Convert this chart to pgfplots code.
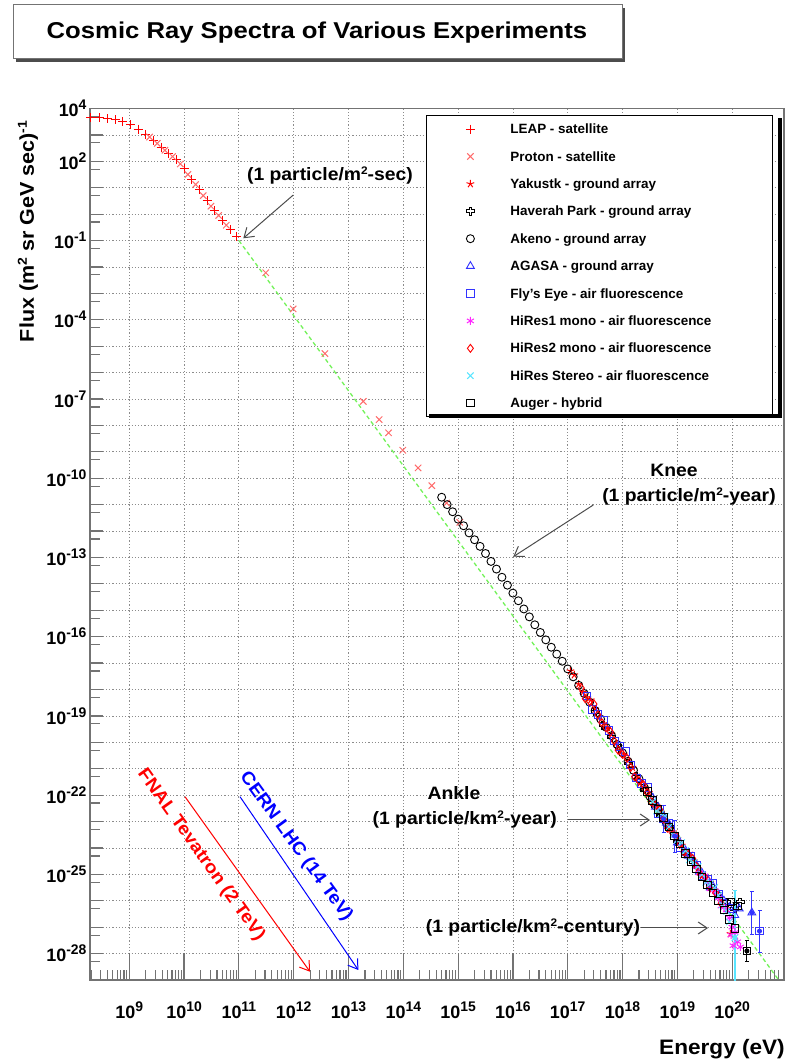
\documentclass[border=0pt]{standalone}
\usepackage{fontspec}
\setmainfont{Liberation Sans}
\usepackage{pgfplots}
\pgfplotsset{compat=1.18}
\usetikzlibrary{arrows.meta}
\definecolor{frame}{gray}{0.45}
\definecolor{gridc}{gray}{0.55}
\definecolor{lred}{rgb}{1,0.42,0.42}
\definecolor{mblue}{rgb}{0.2,0.2,1}
\definecolor{mmag}{rgb}{1,0.15,1}
\definecolor{mcyan}{rgb}{0.35,0.9,1}
\definecolor{lgreen}{rgb}{0.45,0.95,0.35}
\definecolor{arr}{gray}{0.3}
\newcommand\tlab[1]{\fontsize{18}{18}\selectfont\bfseries 10\raisebox{7bp}{\fontsize{14}{14}\selectfont #1}}
\newcommand\ann[1]{\scalebox{1.08}[1]{\fontsize{18}{18}\selectfont\bfseries #1}}
\newcommand\sq[1]{\raisebox{6bp}{\fontsize{11}{11}\selectfont #1}}
\newcommand\lgent[1]{\makebox[262bp][l]{#1}\rule[-9bp]{0pt}{27.4bp}}
\pgfdeclareplotmark{ocross}{%
  \pgfpathmoveto{\pgfqpoint{-0.35\pgfplotmarksize}{\pgfplotmarksize}}%
  \pgfpathlineto{\pgfqpoint{0.35\pgfplotmarksize}{\pgfplotmarksize}}%
  \pgfpathlineto{\pgfqpoint{0.35\pgfplotmarksize}{0.35\pgfplotmarksize}}%
  \pgfpathlineto{\pgfqpoint{\pgfplotmarksize}{0.35\pgfplotmarksize}}%
  \pgfpathlineto{\pgfqpoint{\pgfplotmarksize}{-0.35\pgfplotmarksize}}%
  \pgfpathlineto{\pgfqpoint{0.35\pgfplotmarksize}{-0.35\pgfplotmarksize}}%
  \pgfpathlineto{\pgfqpoint{0.35\pgfplotmarksize}{-\pgfplotmarksize}}%
  \pgfpathlineto{\pgfqpoint{-0.35\pgfplotmarksize}{-\pgfplotmarksize}}%
  \pgfpathlineto{\pgfqpoint{-0.35\pgfplotmarksize}{-0.35\pgfplotmarksize}}%
  \pgfpathlineto{\pgfqpoint{-\pgfplotmarksize}{-0.35\pgfplotmarksize}}%
  \pgfpathlineto{\pgfqpoint{-\pgfplotmarksize}{0.35\pgfplotmarksize}}%
  \pgfpathlineto{\pgfqpoint{-0.35\pgfplotmarksize}{0.35\pgfplotmarksize}}%
  \pgfpathclose\pgfusepathqstroke}
\pgfplotsset{lgimg/.style={legend image code/.code={\path[draw=none,fill=none] (0bp,-5bp) rectangle (84bp,5bp); \draw[##1] plot coordinates {(44bp,0bp)};}}}
\begin{document}
\begin{tikzpicture}
\useasboundingbox (0,0) rectangle (785bp,1062bp);
\begin{scope}[x=1bp,y=1bp]
 \fill[black!70] (16,1000) rectangle (625,1054);
 \filldraw[fill=white,draw=black!55,line width=1bp] (13,1003) rectangle (622,1057);
 \node[inner sep=0pt] at (317,1029) {\scalebox{1.12}[1]{\fontsize{23}{23}\selectfont\bfseries Cosmic Ray Spectra of Various Experiments}};
 \node[rotate=90,inner sep=0pt] at (28,830.5) {\scalebox{1.08}[1]{\fontsize{20}{20}\selectfont\bfseries Flux (m\raisebox{7bp}{\fontsize{13}{13}\selectfont 2} sr GeV sec)\raisebox{7bp}{\fontsize{13}{13}\selectfont -1}}};
 \node[anchor=east,inner sep=0pt] at (785,13) {\scalebox{1.08}[1]{\fontsize{21}{21}\selectfont\bfseries Energy (eV)}};
\end{scope}
\begin{axis}[
  at={(90bp,82bp)}, anchor=south west, scale only axis,
  width=694bp, height=871.5bp,
  xmin=8.283, xmax=20.947, ymin=-29, ymax=4,
  axis line style={frame, line width=1.8bp},
  tick align=inside, xtick pos=left, ytick pos=left,
  xtick={9,...,20}, ytick={-28,...,4},
  minor xtick={8.301,9.301,...,20.301,8.477,9.477,...,20.477,8.602,9.602,...,20.602,8.699,9.699,...,20.699,8.778,9.778,...,20.778,8.845,9.845,...,20.845,8.903,9.903,...,19.903,8.954,9.954,...,19.954},
  minor ytick={-28.301,-27.301,...,3.699},
  major tick length=13bp, minor tick length=10bp,
  tick style={frame, line width=1.2bp},
  grid=major, major grid style={gridc, line width=0.8bp, dash pattern=on 1.2bp off 2bp},
  /pgf/number format/assume math mode=true,
  xticklabel={\tlab{\pgfmathprintnumber{\tick}}},
  xticklabel style={yshift=-18bp},
  yticklabels={\tlab{-28},,,\tlab{-25},,,\tlab{-22},,,\tlab{-19},,,\tlab{-16},,,\tlab{-13},,,\tlab{-10},,,\tlab{-7},,,\tlab{-4},,,\tlab{-1},,,\tlab{2},,\tlab{4}},
  legend cell align=left,
  legend style={at={(axis description cs:0.48415,0.99254)}, anchor=north west, draw=black, line width=0.8bp, fill=white, inner xsep=0pt, inner ysep=0pt, font=\fontsize{13.5}{14}\selectfont\bfseries, nodes={inner sep=0pt, text depth={}}, cells={anchor=west, inner sep=0pt}, row sep=0pt},
]
\pgfplotsinvokeforeach{9,...,20}{\draw[frame, line width=1.2bp] (axis cs:#1,-29) -- (axis cs:#1,-27.98);}
\addplot[lgreen, line width=1.3bp, dash pattern=on 4bp off 3bp, forget plot] coordinates {(11,-1) (20.85,-29)};
% LEAP
\addplot[only marks, red, mark=+, mark size=4.5bp, line width=1bp, lgimg] coordinates {
(8.30,3.66) (8.45,3.65) (8.60,3.62) (8.74,3.57) (8.88,3.50) (9.02,3.38) (9.16,3.22) (9.30,3.02) (9.44,2.80) (9.58,2.54)
(9.72,2.29) (9.86,2.05) (10.00,1.72) (10.14,1.30) (10.28,0.92) (10.42,0.50) (10.56,0.13) (10.70,-0.25) (10.84,-0.58) (10.96,-0.84)};
\addlegendentry{\lgent{LEAP - satellite}}
% Proton
\addplot[only marks, lred, mark=x, mark size=4.5bp, line width=1bp, lgimg] coordinates {
(9.37,2.92) (9.51,2.68) (9.65,2.42) (9.79,2.18) (9.93,1.90) (10.07,1.50) (10.21,1.12) (10.35,0.70) (10.49,0.30) (10.63,-0.05) (10.77,-0.42)
(11.49,-2.22) (11.99,-3.59) (12.57,-5.28) (13.27,-7.09) (13.56,-7.78) (13.73,-8.28) (13.99,-8.94) (14.27,-9.61) (14.52,-10.28) (14.79,-10.94) (15.03,-11.67)};
\addlegendentry{\lgent{Proton - satellite}}
% Yakutsk
\addplot[only marks, red, mark=star, mark size=4bp, line width=1bp, lgimg] coordinates {
(17.05,-17.30) (17.2,-17.80) (17.35,-18.30) (17.5,-18.75) (17.65,-19.30) (17.8,-19.70) (17.95,-20.30) (18.1,-20.70) (18.25,-21.25) (18.4,-21.70)
(18.55,-22.25) (18.7,-22.65) (18.85,-23.25) (19.0,-23.65) (19.15,-24.15) (19.3,-24.50) (19.45,-25.00) (19.6,-25.30) (19.75,-25.80)
(17.12,-17.45) (17.28,-18.10) (17.42,-18.40) (17.58,-19.05) (17.72,-19.45) (17.88,-20.05) (18.02,-20.45) (18.18,-20.95) (18.32,-21.55) (18.48,-21.90)
(18.62,-22.40) (18.78,-23.00) (18.92,-23.40) (19.08,-23.90) (19.22,-24.20) (19.38,-24.80) (19.52,-25.15) (19.68,-25.60) (19.82,-26.00) (19.90,-26.30) (19.97,-27.25)};
\addlegendentry{\lgent{Yakustk - ground array}}
% Haverah Park
\addplot[only marks, black, mark=ocross, mark size=4bp, line width=0.9bp, lgimg] coordinates {
(17.5,-18.85) (17.65,-19.35) (17.8,-19.80) (17.95,-20.25) (18.1,-20.80) (18.25,-21.30) (18.4,-21.80) (18.55,-22.30) (18.7,-22.80)
(18.85,-23.20) (19.0,-23.75) (19.15,-24.20) (19.3,-24.55) (19.45,-25.05) (19.6,-25.45) (19.75,-25.75) (19.9,-26.05) (20.05,-26.30) (20.15,-26.05)};
\addlegendentry{\lgent{Haverah Park - ground array}}
% Akeno
\addplot[only marks, black, mark=o, mark size=4bp, line width=0.9bp, lgimg] coordinates {
(14.7,-10.72) (14.8,-11.00) (14.9,-11.27) (15.0,-11.55) (15.1,-11.80) (15.2,-12.07) (15.3,-12.33) (15.4,-12.58) (15.5,-12.85) (15.6,-13.15)
(15.7,-13.44) (15.8,-13.75) (15.9,-14.05) (16.0,-14.35) (16.1,-14.64) (16.2,-14.95) (16.3,-15.25) (16.4,-15.55) (16.5,-15.84) (16.6,-16.12)
(16.7,-16.40) (16.8,-16.66) (16.9,-16.93) (17.0,-17.22) (17.1,-17.52) (17.2,-17.84) (17.3,-18.15) (17.4,-18.48) (17.5,-18.80) (17.6,-19.12)
(17.7,-19.43) (17.8,-19.75) (17.9,-20.08) (18.0,-20.40) (18.1,-20.72) (18.2,-21.06) (18.3,-21.38) (18.4,-21.72) (18.5,-22.05) (18.6,-22.40)
(18.7,-22.72) (18.8,-23.05)};
\addlegendentry{\lgent{Akeno - ground array}}
% AGASA
\addplot[only marks, mblue, mark=triangle, mark size=4.5bp, line width=0.9bp, lgimg] coordinates {
(18.55,-22.10) (18.65,-22.45) (18.75,-22.80) (18.85,-23.10) (18.95,-23.50) (19.05,-23.80) (19.15,-24.10) (19.25,-24.35) (19.35,-24.65)
(19.45,-24.95) (19.55,-25.20) (19.65,-25.45) (19.75,-25.75) (19.85,-26.00) (19.95,-26.25) (20.05,-26.55) (20.13,-26.30) (20.36,-26.45)
(18.6,-22.45) (18.8,-23.05) (19.0,-23.80) (19.2,-24.30) (19.4,-24.90) (19.6,-25.50)};
\addlegendentry{\lgent{AGASA - ground array}}
% Fly's Eye
\addplot[only marks, mblue, mark=square, mark size=3.8bp, line width=0.9bp, lgimg] coordinates {
(17.35,-18.25) (17.55,-18.95) (17.75,-19.55) (17.95,-20.15) (18.15,-20.85) (18.35,-21.55) (18.55,-22.20) (18.75,-22.90) (18.95,-23.55)
(19.15,-24.15) (19.35,-24.65) (19.55,-25.20) (19.75,-25.75) (19.95,-26.30) (20.5,-27.15)
(17.45,-18.75) (17.65,-19.15) (17.85,-19.95) (18.05,-20.35) (18.25,-21.35) (18.45,-21.70) (18.65,-22.70) (18.85,-23.05) (19.05,-24.00) (19.25,-24.30) (19.45,-25.05) (19.65,-25.35) (19.85,-26.10)};
\addlegendentry{\lgent{Fly's Eye - air fluorescence}}
% HiRes1
\addplot[only marks, mmag, mark=asterisk, mark size=4bp, line width=1bp, lgimg] coordinates {
(19.35,-24.70) (19.45,-25.00) (19.55,-25.30) (19.65,-25.60) (19.75,-25.90) (19.85,-26.25) (19.95,-26.65) (20.05,-27.20) (20.15,-27.75)
(19.40,-24.95) (19.50,-25.05) (19.60,-25.55) (19.70,-25.65) (19.80,-26.20) (19.90,-26.35) (20.00,-27.00) (20.10,-27.55) (20.02,-27.70) (19.98,-27.30)};
\addlegendentry{\lgent{HiRes1 mono - air fluorescence}}
% HiRes2
\addplot[only marks, red, mark=diamond, mark size=4bp, line width=0.9bp, lgimg] coordinates {
(17.25,-17.95) (17.4,-18.45) (17.55,-18.95) (17.7,-19.45) (17.85,-19.95) (18.0,-20.45) (18.15,-20.95) (18.3,-21.45) (18.45,-21.90)
(18.6,-22.40) (18.75,-22.90) (18.9,-23.40) (19.05,-23.85) (19.2,-24.25) (19.35,-24.70)
(17.32,-18.35) (17.48,-18.55) (17.62,-19.25) (17.78,-19.60) (17.92,-20.30) (18.08,-20.60) (18.22,-21.30) (18.38,-21.60) (18.52,-22.25) (18.68,-22.55)
(18.82,-23.25) (18.98,-23.55) (19.12,-24.15) (19.28,-24.40) (19.42,-25.00) (19.50,-25.10) (19.60,-25.50) (19.70,-25.70) (19.80,-26.10)};
\addlegendentry{\lgent{HiRes2 mono - air fluorescence}}
% HiRes Stereo
\addplot[only marks, mcyan, mark=x, mark size=4.5bp, line width=1bp, lgimg] coordinates {
(18.55,-22.25) (18.7,-22.70) (18.85,-23.20) (19.0,-23.70) (19.15,-24.10) (19.3,-24.55) (19.45,-25.00) (19.6,-25.35) (19.75,-25.80) (19.9,-26.40) (20.05,-27.40)
(18.62,-22.60) (18.78,-22.80) (18.92,-23.50) (19.08,-23.80) (19.22,-24.45) (19.38,-24.70) (19.52,-25.30) (19.68,-25.50) (19.82,-26.15) (19.95,-26.80)};
\addlegendentry{\lgent{HiRes Stereo - air fluorescence}}
% Auger
\addplot[only marks, black, mark=square, mark size=3.8bp, line width=0.9bp, lgimg] coordinates {
(18.45,-21.85) (18.55,-22.20) (18.65,-22.55) (18.75,-22.85) (18.85,-23.20) (18.95,-23.55) (19.05,-23.85) (19.15,-24.20) (19.25,-24.50)
(19.35,-24.80) (19.45,-25.10) (19.55,-25.40) (19.65,-25.70) (19.75,-26.00) (19.85,-26.35) (19.95,-26.70) (20.05,-27.05) (20.27,-27.90) (19.98,-26.05) (20.10,-26.20)};
\addlegendentry{\lgent{Auger - hybrid}}
% error bars
\addplot[forget plot, only marks, mark=none, mblue, line width=1bp, error bars/.cd, y dir=both, y explicit, error bar style={line width=1bp}] coordinates {
(20.36,-26.45) +- (0,0.8) (20.5,-27.15) +- (0,0.8) (18.95,-23.55) +- (0,0.6) (18.75,-22.90) +- (0,0.5)};
\addplot[forget plot, only marks, mark=none, black, line width=1bp, error bars/.cd, y dir=both, y explicit, error bar style={line width=1bp}] coordinates {
(20.27,-27.90) +- (0,0.4)};
\addplot[forget plot, only marks, mark=none, mcyan, line width=1.2bp, error bars/.cd, y dir=both, y explicit, error bar style={line width=1.5bp}] coordinates {
(20.05,-27.40) +- (0,1.8)};
\end{axis}
\begin{scope}[x=1bp,y=1bp]
 \fill[black] (778,644) rectangle (781.5,944);
 \fill[black] (429,644) rectangle (781.5,647.5);
 \tikzset{ar/.style={line width=1bp, -{Straight Barb[length=9bp,width=12bp,line width=1bp]}}}
 \node[inner sep=0pt] at (330,886) {\ann{(1 particle/m\sq{2}-sec)}};
 \draw[arr, ar] (293.3,867) -- (243.3,823.7);
 \node[inner sep=0pt] at (674,592) {\ann{Knee}};
 \node[inner sep=0pt] at (689,565.3) {\ann{(1 particle/m\sq{2}-year)}};
 \draw[arr, ar] (593.3,557) -- (513.3,505.3);
 \node[inner sep=0pt] at (454,269) {\ann{Ankle}};
 \node[inner sep=0pt, anchor=east] at (557,242) {\ann{(1 particle/km\sq{2}-year)}};
 \draw[arr, ar] (568,242) -- (650,242);
 \node[inner sep=0pt] at (533,134) {\ann{(1 particle/km\sq{2}-century)}};
 \draw[arr, ar] (641,134) -- (708,134);
 \draw[red, ar] (185,265.3) -- (310,90.3);
 \node[red, rotate=-54.5, inner sep=0pt] at (201,207) {\ann{FNAL Tevatron (2 TeV)}};
 \draw[blue, ar] (240,265.3) -- (358.3,92);
 \node[blue, rotate=-54, inner sep=0pt] at (296,215.3) {\ann{CERN LHC (14 TeV)}};
\end{scope}
\end{tikzpicture}
\end{document}
